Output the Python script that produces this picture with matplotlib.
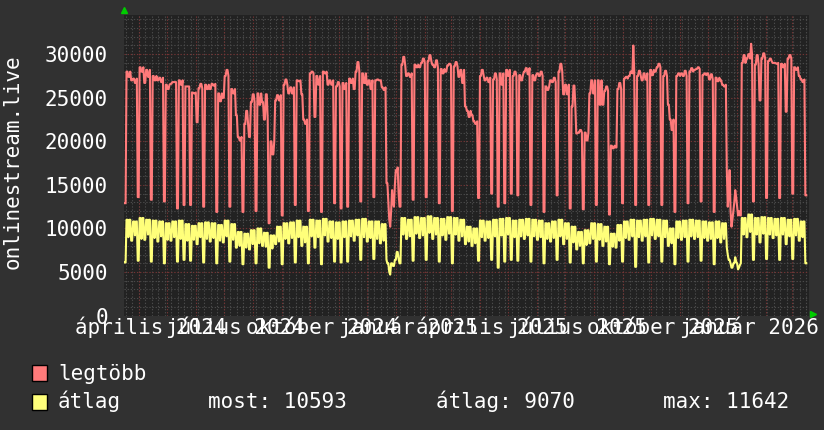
import matplotlib
matplotlib.use("Agg")
import matplotlib.dates as mdates
import matplotlib.pyplot as plt
import numpy as np
import pandas as pd
from matplotlib.patches import Rectangle
from matplotlib.transforms import blended_transform_factory

# weekly readings (thousands), one entry per week starting on Saturday
first_saturday = "2024-03-16"
n_days = 7 * 104 + 2

max_weekday = [
    28.0, 27.2, 28.5, 28.2, 27.5, 27.3, 26.5, 26.8, 27.0, 26.3,
    25.6, 26.1, 26.5, 26.6, 25.5, 27.5, 26.0, 20.5, 22.0, 24.5,
    25.5, 22.5, 20.0, 25.3, 26.5, 26.2, 27.0, 22.5, 27.8, 27.5,
    28.0, 27.0, 26.3, 26.7, 27.2, 28.0, 27.8, 27.0, 27.0, 26.2,
    12.5, 16.5, 28.8, 27.8, 28.8, 29.0, 29.2, 28.5, 28.3, 28.7,
    28.6, 28.2, 23.5, 22.3, 27.5, 27.3, 27.1, 27.8, 28.2, 27.5,
    27.6, 28.4, 27.6, 27.5, 26.3, 26.8, 28.0, 26.5, 24.0, 21.0,
    21.0, 27.0, 27.0, 25.8, 19.5, 26.0, 27.2, 28.0, 27.5, 27.8,
    28.2, 28.5, 27.5, 22.5, 27.5, 27.5, 28.0, 28.3, 27.6, 27.1,
    27.3, 26.5, 13.0, 12.5, 29.0, 30.0, 28.8, 29.5, 29.2, 29.0,
    28.9, 29.5, 28.5, 27.1, 27.0,
]
max_midweek = [
    27.4, 26.7, 28.0, 27.4, 27.0, 26.8, 26.0, 26.8, 26.5, 26.3,
    25.5, 26.6, 26.0, 26.4, 24.6, 28.2, 25.5, 20.1, 23.5, 25.4,
    24.2, 25.4, 18.5, 24.7, 27.1, 25.5, 26.9, 22.0, 28.0, 26.5,
    27.8, 26.5, 26.8, 26.0, 26.7, 29.1, 26.7, 26.0, 27.1, 25.9,
    10.2, 16.7, 29.7, 27.4, 28.5, 29.5, 29.9, 29.3, 27.8, 28.9,
    29.1, 26.7, 22.8, 22.0, 28.2, 26.8, 27.8, 26.5, 27.5, 28.0,
    27.0, 27.7, 27.0, 28.0, 25.9, 27.3, 28.9, 25.4, 26.4, 21.3,
    20.1, 25.5, 24.2, 26.3, 19.2, 26.7, 27.4, 27.8, 28.1, 27.1,
    27.6, 28.9, 28.1, 21.3, 27.8, 28.1, 28.4, 28.5, 27.8, 27.7,
    26.9, 26.3, 12.0, 12.0, 29.9, 29.5, 29.9, 30.1, 29.5, 28.9,
    28.5, 29.9, 28.2, 26.8, 27.0,
]
max_weekend = [
    12.9, 27.0, 13.6, 26.7, 13.3, 27.0, 13.1, 26.6, 12.3, 12.7,
    12.7, 22.2, 12.5, 26.0, 11.9, 25.0, 12.5, 23.0, 11.9, 20.5,
    12.0, 24.5, 10.6, 24.7, 11.5, 25.5, 12.7, 25.4, 12.0, 22.8,
    11.9, 26.5, 12.9, 12.3, 12.5, 26.0, 13.1, 26.5, 13.6, 27.0,
    15.2, 17.0, 12.5, 27.5, 13.3, 28.5, 13.6, 28.8, 12.9, 28.0,
    12.0, 27.4, 24.0, 23.0, 13.5, 27.0, 14.0, 12.5, 12.9, 14.0,
    13.8, 28.0, 12.7, 27.8, 11.9, 27.0, 13.8, 25.4, 12.3, 20.9,
    12.2, 25.5, 12.7, 24.2, 11.6, 19.3, 12.9, 27.5, 12.7, 27.0,
    12.7, 28.0, 12.7, 24.2, 11.9, 27.8, 12.9, 28.2, 13.1, 27.8,
    11.9, 27.0, 16.7, 12.0, 11.5, 29.5, 13.1, 24.7, 13.5, 29.0,
    13.5, 23.4, 14.0, 27.5, 13.8,
]
avg_weekday = [
    11.0, 10.8, 11.2, 11.0, 10.9, 10.8, 10.6, 10.8, 10.9, 10.5,
    10.3, 10.6, 10.7, 10.6, 10.4, 10.9, 10.5, 9.6, 9.4, 9.8,
    10.0, 9.5, 9.2, 10.2, 10.6, 10.7, 10.9, 10.2, 11.0, 10.9,
    11.1, 10.8, 10.7, 10.8, 10.9, 11.0, 11.1, 10.8, 10.8, 10.5,
    6.5, 6.8, 11.2, 11.0, 11.3, 11.2, 11.4, 11.2, 11.1, 11.3,
    11.2, 11.0, 10.2, 10.0, 10.9, 10.8, 11.0, 11.1, 11.2, 10.9,
    11.0, 11.1, 11.0, 10.9, 10.6, 10.8, 11.0, 10.6, 10.2, 9.6,
    9.8, 10.6, 10.5, 10.2, 9.4, 10.4, 10.8, 11.0, 10.9, 11.0,
    11.1, 11.0, 10.9, 10.0, 10.8, 10.9, 11.0, 10.9, 10.8, 10.7,
    10.8, 10.6, 6.5, 6.0, 11.2, 11.6, 11.2, 11.3, 11.2, 11.1,
    11.2, 11.0, 11.1, 10.8, 10.6,
]
avg_midweek = [
    9.0, 9.2, 8.8, 9.3, 8.9, 9.1, 8.7, 9.0, 8.8, 8.6,
    8.7, 9.0, 8.8, 8.9, 8.6, 9.1, 8.7, 8.0, 7.8, 8.2,
    8.3, 7.9, 7.7, 8.5, 8.8, 8.9, 9.0, 8.4, 9.1, 9.0,
    9.2, 8.9, 8.8, 9.0, 9.1, 9.2, 9.0, 8.9, 8.8, 8.6,
    5.5, 6.0, 9.3, 9.1, 9.4, 9.2, 9.5, 9.3, 9.2, 9.4,
    9.3, 9.1, 8.5, 8.3, 9.0, 8.9, 9.1, 9.2, 9.3, 9.0,
    9.1, 9.2, 9.1, 9.0, 8.8, 8.9, 9.1, 8.8, 8.4, 8.0,
    8.1, 8.8, 8.7, 8.5, 7.9, 8.6, 8.9, 9.1, 9.0, 9.1,
    9.2, 9.1, 9.0, 8.3, 8.9, 9.0, 9.1, 9.0, 8.9, 8.8,
    8.9, 8.8, 6.0, 5.5, 9.3, 9.6, 9.3, 9.4, 9.3, 9.2,
    9.3, 9.1, 9.2, 9.0, 8.8,
]
avg_weekend = [
    6.1, 8.6, 6.3, 8.7, 6.2, 8.5, 6.0, 8.6, 6.2, 6.4,
    6.3, 8.2, 6.1, 8.5, 6.0, 8.4, 6.2, 7.8, 5.9, 7.6,
    6.0, 8.0, 5.5, 8.2, 5.9, 8.3, 6.1, 8.0, 6.0, 7.8,
    5.9, 8.5, 6.2, 6.1, 6.2, 8.6, 6.4, 8.5, 6.5, 8.3,
    6.4, 5.7, 6.0, 8.8, 6.3, 8.9, 6.4, 8.8, 6.2, 8.7,
    6.0, 8.6, 8.2, 8.0, 6.3, 8.6, 6.4, 5.5, 6.2, 6.4,
    6.3, 8.8, 6.2, 8.7, 6.0, 8.5, 6.4, 8.2, 6.1, 7.6,
    6.0, 8.3, 6.2, 8.0, 5.9, 7.8, 6.2, 8.7, 5.6, 8.6,
    6.1, 8.8, 6.2, 8.0, 5.9, 8.7, 6.2, 8.8, 6.3, 8.6,
    5.9, 8.4, 7.8, 6.0, 5.8, 9.0, 6.4, 8.4, 6.5, 8.9,
    6.4, 8.2, 6.5, 8.6, 6.0,
]

# christmas / new year days read one by one
holiday_days = [
    "2024-12-21", "2024-12-22", "2024-12-23", "2024-12-24", "2024-12-25",
    "2024-12-26", "2024-12-27", "2024-12-28", "2024-12-29", "2024-12-30",
    "2024-12-31", "2025-01-01", "2025-01-02", "2025-01-03", "2025-01-04",
    "2025-01-05",
    "2025-12-20", "2025-12-21", "2025-12-22", "2025-12-23", "2025-12-24",
    "2025-12-25", "2025-12-26", "2025-12-27", "2025-12-28", "2025-12-29",
    "2025-12-30", "2025-12-31", "2026-01-01", "2026-01-02", "2026-01-03",
    "2026-01-04",
]
holiday_max = [
    15.2, 15.2, 13.0, 11.0, 10.2, 12.0, 14.4, 13.0, 12.5, 15.0,
    16.7, 16.5, 17.0, 14.0, 12.5, 12.5,
    16.7, 12.5, 14.0, 16.7, 12.0, 10.2, 11.0, 12.0, 13.0, 14.4,
    13.6, 12.5, 11.5, 12.0, 11.5, 11.5,
]
holiday_avg = [
    6.4, 6.0, 6.0, 5.0, 4.7, 6.0, 6.0, 5.7, 5.7, 6.4,
    6.4, 7.3, 7.3, 6.5, 6.0, 6.0,
    7.8, 7.0, 6.4, 6.4, 6.0, 5.5, 5.5, 6.0, 6.0, 6.7,
    6.2, 6.0, 5.3, 5.5, 5.8, 6.0,
]
peak_days = ["2025-09-11", "2026-01-15"]
peak_max = [31.0, 31.2]

label_months = ["2024-04-01", "2024-07-01", "2024-10-01", "2025-01-01",
                "2025-04-01", "2025-07-01", "2025-10-01", "2026-01-01"]
label_texts = ["április 2024", "július 2024", "október 2024", "január 2025",
               "április 2025", "július 2025", "október 2025", "január 2026"]
y_ticks = [0, 5000, 10000, 15000, 20000, 25000, 30000]

series_names = ["legtöbb", "átlag"]
stat_texts = ["most: 10593", "átlag: 9070", "max: 11642"]

# build the daily series
days = pd.date_range(first_saturday, periods=n_days, freq="D")
week = np.arange(n_days) // 7
dow = np.asarray(days.dayofweek)
weekend = dow >= 5
max_vals = np.where(weekend, np.array(max_weekend)[week],
                    np.where((dow == 2) | (dow == 3), np.array(max_midweek)[week],
                             np.array(max_weekday)[week]))
avg_vals = np.where(weekend, np.array(avg_weekend)[week],
                    np.where(dow == 2, np.array(avg_midweek)[week], np.array(avg_weekday)[week]))
s_max = pd.Series(max_vals * 1000, index=days)
s_avg = pd.Series(avg_vals * 1000, index=days)
hol = pd.to_datetime(holiday_days)
s_max.loc[hol] = np.array(holiday_max) * 1000
s_avg.loc[hol] = np.array(holiday_avg) * 1000
s_max.loc[pd.to_datetime(peak_days)] = np.array(peak_max) * 1000

FONT = "DejaVu Sans Mono"
BG = "#313131"
PLOT_BG = "#222222"
RED = "#ff7a7a"
YELLOW = "#ffff7a"

fig = plt.figure(figsize=(8.24, 4.30), dpi=100, facecolor=BG)
ax = fig.add_axes([124 / 824, 114.4 / 430, 685 / 824, 300.6 / 430])
ax.set_facecolor(PLOT_BG)

t0 = mdates.date2num(pd.Timestamp("2024-04-01"))
ax.set_xlim(t0 - 15.7, t0 + 716.9)
ax.set_ylim(0, 34500)

# grid: weekly / monthly vertical, 1000 / 5000 horizontal
minor_c, major_c = "#4a4a4a", "#733434"
dots = (0, (1.2, 1.6))
for d in pd.date_range("2024-03-18", "2026-03-20", freq="W-MON"):
    ax.axvline(mdates.date2num(d), color=minor_c, lw=0.8, ls=dots, zorder=1)
for v in range(0, 35000, 1000):
    if v % 5000:
        ax.axhline(v, color=minor_c, lw=0.8, ls=dots, zorder=1)
for d in pd.date_range("2024-04-01", "2026-03-01", freq="MS"):
    ax.axvline(mdates.date2num(d), color=major_c, lw=0.8, ls=dots, zorder=1)
for v in y_ticks[1:]:
    ax.axhline(v, color=major_c, lw=0.8, ls=dots, zorder=1)

x = mdates.date2num(days) + 1.0
ax.plot(x, s_max.to_numpy(), color=RED, lw=1.5, zorder=3)
ax.plot(x, s_avg.to_numpy(), color=YELLOW, lw=1.5, zorder=3)

for sp in ax.spines.values():
    sp.set_visible(False)
ax.set_xticks([])
ax.set_yticks(y_ticks)
ax.set_yticklabels([str(v) for v in y_ticks], fontfamily=FONT, fontsize=15, color="white")
ax.tick_params(axis="y", length=0, pad=11.5)

xt = blended_transform_factory(ax.transData, fig.transFigure)
for m, txt in zip(label_months, label_texts):
    ax.text(mdates.date2num(pd.Timestamp(m)) + 13, 1 - 334 / 430, txt, transform=xt,
            ha="center", va="baseline", fontfamily=FONT, fontsize=15, color="white",
            clip_on=False)

# axis arrows
ax.plot([0.0], [1.016], marker="^", ms=5, color="#00cc00", transform=ax.transAxes, clip_on=False)
ax.plot([1.006], [0.004], marker=">", ms=5, color="#00cc00", transform=ax.transAxes, clip_on=False)

fig.text(13 / 824, 1 - 162 / 430, "onlinestream.live", rotation=90, ha="center", va="center",
         fontfamily=FONT, fontsize=15, color="white")

# legend
for i, (name, col) in enumerate(zip(series_names, [RED, YELLOW])):
    top = 365 + i * 28.5
    fig.patches.append(Rectangle((32 / 824, 1 - (top + 16) / 430), 15 / 824, 16 / 430,
                                 transform=fig.transFigure, facecolor=col,
                                 edgecolor="black", lw=1.0))
    fig.text(58 / 824, 1 - (top + 14.5) / 430, name, ha="left", va="baseline",
             fontfamily=FONT, fontsize=15, color="white")
for xpos, txt in zip([208, 436, 663], stat_texts):
    fig.text(xpos / 824, 1 - 408 / 430, txt, ha="left", va="baseline",
             fontfamily=FONT, fontsize=15, color="white")

fig.savefig("out.png", dpi=100, facecolor=BG)
